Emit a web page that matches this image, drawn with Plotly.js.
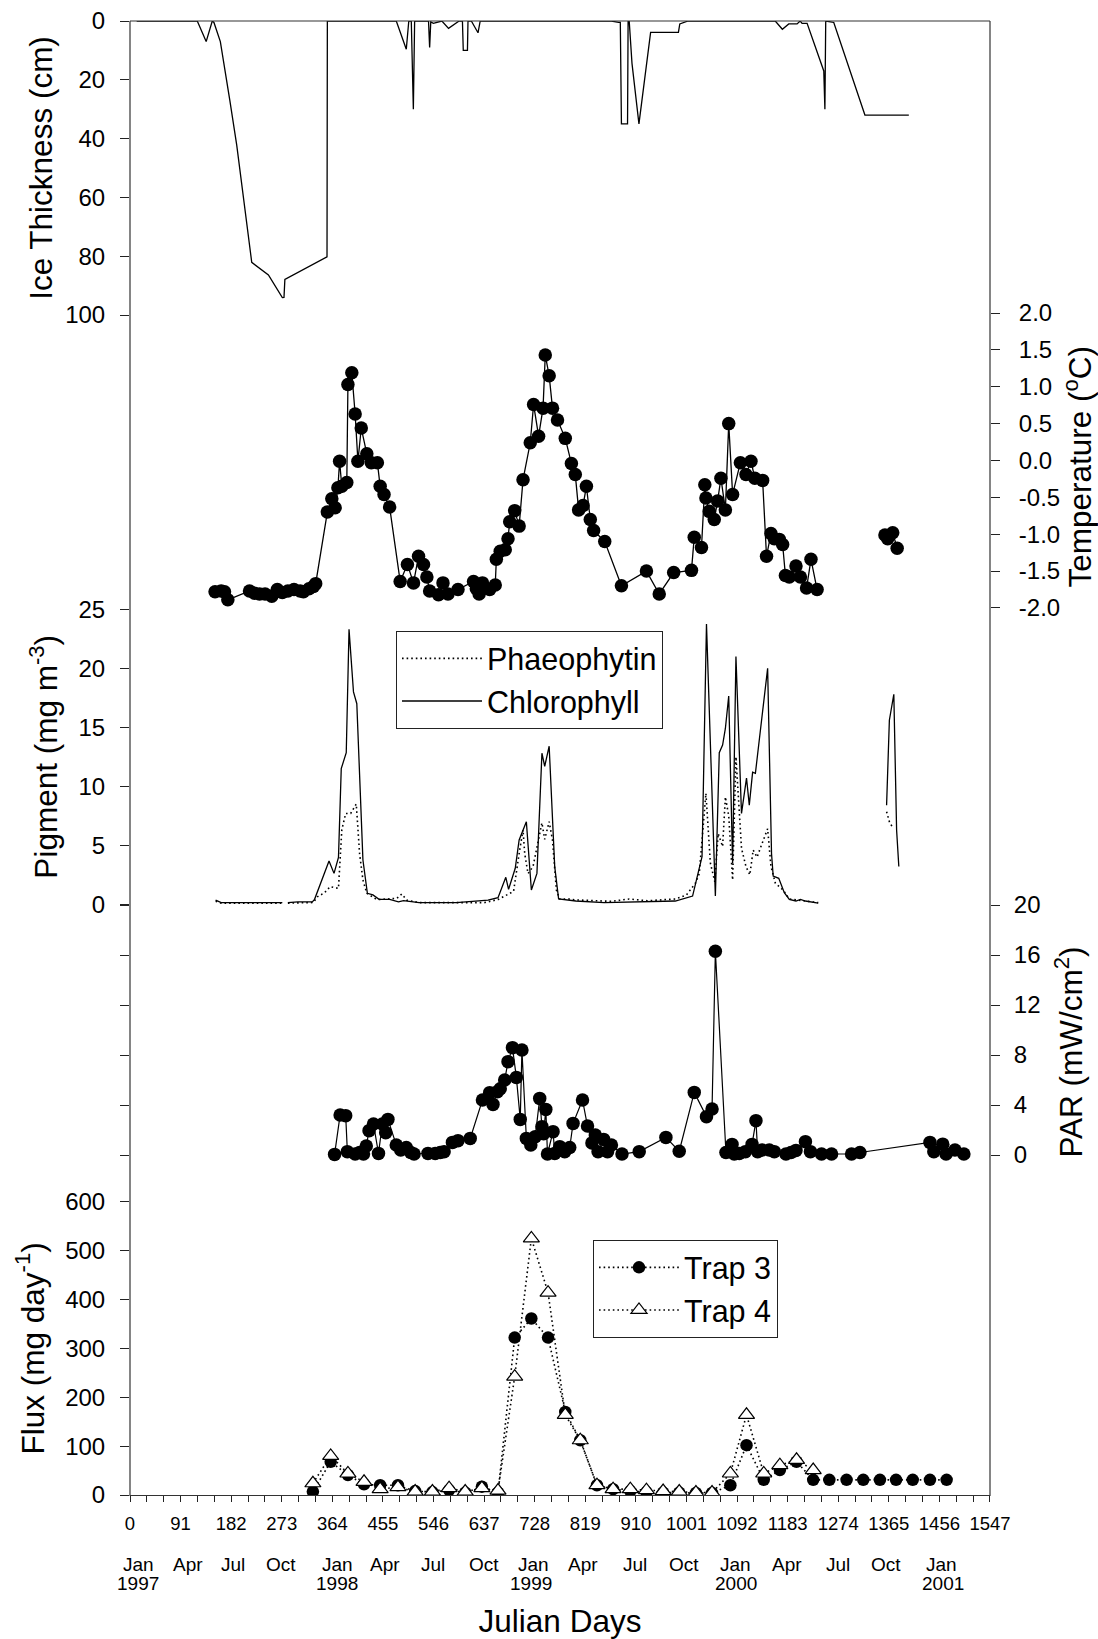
<!DOCTYPE html>
<html><head><meta charset="utf-8">
<script src="https://cdn.plot.ly/plotly-3.0.1.min.js"></script>
<style>html,body{margin:0;padding:0;background:#fff}</style>
</head><body><div id="chart" style="width:1098px;height:1639px"></div>
<script>
// ---------------- DATA ----------------
const iceDays = [12,121,137,148,151,162.5,179.5,192,219,249,274,277,278.6,354.4,355,479,497,501.5,506,509.7,512,537,539,541,545.7,554,561,573,588,592,598,599.5,607,608,614,626,630,866,879,882,884,895,896,898,903,915.5,936.5,986.5,989,997,1004,1160.7,1173.5,1185,1200,1205.5,1209,1218,1248,1250,1251.5,1266,1322,1401];
const iceVals = [0,0,7,0,0.5,7,26.9,42.2,82.1,86.4,94.1,94,87.9,80.2,0,0,9.6,0,0,30,0,0,9,0.3,0.8,0.5,0,2.5,0.5,0,0,10,10,0,0,4,0,0,0.5,0.5,35,35,0,0,14.4,35,3.9,3.9,1,0.5,0,0,2.8,1,1,0,0.8,0.8,17,30,0,0.5,32,32];

const tempDays = [153,164,170,176,215,224,233,243,255,265,274,284,295,306,312,322,330,334,355,363,369,374,377,381,390,392,399,405,410,416,426,434,445,450,457,467,486,499,510,519,528,534,539,555,563,572,590,618,623,628,634,647,657,659,666,675,680,683,692,700,707,720,726,735,743,747,754,760,769,783,794,801,807,815,821,828,834,854,884,929,952,978,1010,1015,1028,1034,1036,1042,1051,1057,1063,1071,1077,1084,1098,1108,1117,1124,1138,1145,1153,1159,1168,1174,1179,1186,1198,1206,1217,1225,1236,null,1358,1363,1372,1380];
const tempVals = [-1.78,-1.77,-1.78,-1.89,-1.77,-1.80,-1.81,-1.81,-1.84,-1.75,-1.79,-1.77,-1.75,-1.77,-1.78,-1.74,-1.71,-1.67,-0.70,-0.52,-0.64,-0.37,-0.01,-0.35,-0.30,1.03,1.19,0.63,-0.01,0.44,0.09,-0.03,-0.03,-0.35,-0.46,-0.63,-1.64,-1.41,-1.66,-1.30,-1.41,-1.58,-1.77,-1.82,-1.66,-1.81,-1.75,-1.64,-1.74,-1.81,-1.66,-1.75,-1.69,-1.34,-1.23,-1.21,-1.06,-0.83,-0.68,-0.89,-0.26,0.24,0.76,0.33,0.71,1.43,1.15,0.71,0.55,0.30,-0.04,-0.19,-0.67,-0.61,-0.35,-0.80,-0.95,-1.10,-1.70,-1.50,-1.81,-1.52,-1.49,-1.04,-1.18,-0.33,-0.51,-0.69,-0.80,-0.55,-0.24,-0.67,0.50,-0.46,-0.03,-0.19,-0.01,-0.24,-0.27,-1.30,-0.99,-1.06,-1.07,-1.14,-1.56,-1.58,-1.43,-1.58,-1.73,-1.34,-1.75,null,-1.01,-1.06,-0.98,-1.19];

const chlDays = [154,164,274,null,284,302,328,332,358,367,375,380,389,394,402,408,419,427,437,448,467,483,492,520,587,644,662,676,681,693,700,713,722,732,741,746,754,764,771,802,853,981,1012,1029,1037,1053,1060,1066,1071,1077,1084,1090,1100,1109,1114,1120,1125,1147,1154,1157,1167,1177,1186,1198,1206,1215,1238,null,1361,1366,1374,1379,1383];
const chlVals = [0.36,0.14,0.14,null,0.14,0.2,0.2,0.42,3.67,2.62,3.98,11.5,12.85,23.3,18.0,17.0,3.75,0.93,0.8,0.42,0.42,0.2,0.31,0.14,0.14,0.36,0.56,2.29,1.27,3.05,5.45,7.0,1.21,2.62,12.8,11.7,13.4,3.19,0.45,0.28,0.14,0.28,0.7,4.03,23.75,0.7,12.85,13.5,14.9,17.65,3.47,21.0,7.7,10.7,8.4,11.2,11.1,20.0,4.3,2.4,2.2,0.98,0.42,0.28,0.42,0.28,0.1,null,8.4,15.6,17.8,6.3,3.2];

const phDays = [154,164,274,null,284,330,337,350,360,369,375,381,388,397,407,413,419,426,435,444,480,489,498,520,637,662,681,690,700,707,710,716,725,741,746,754,760,767,773,789,802,834,866,898,930,981,1001,1017,1024,1036,1044,1052,1058,1066,1071,1077,1084,1090,1097,1100,1108,1115,1121,1128,1135,1147,1153,1161,1175,1186,1238,null,1361,1366,1372];
const phVals = [0.25,0.1,0.1,null,0.1,0.15,0.64,0.98,1.5,1.4,1.35,6.3,7.7,7.7,8.5,4.3,2.06,0.93,0.64,0.4,0.5,0.87,0.35,0.14,0.14,0.4,0.87,1.1,4.3,6.3,4.3,2.6,3.2,6.9,5.5,7.0,5.45,1.2,0.45,0.45,0.37,0.28,0.25,0.45,0.3,0.45,0.79,1.78,2.6,9.4,3.5,1.9,6.0,4.9,9.1,7.5,2.06,12.5,7.7,4.75,3.2,2.5,4.6,4.0,4.9,6.4,3.2,1.78,1.2,0.45,0.14,null,7.85,7.0,6.5];

const parDays = [368,378,388,391,405,413,420,425,430,438,447,454,460,464,479,487,497,505,511,536,549,558,565,580,590,612,634,647,653,661,666,674,680,688,695,702,705,713,721,729,737,741,744,748,751,761,764,773,782,791,797,814,823,831,837,842,852,859,866,885,916,964,988,1015,1037,1047,1053,1072,1083,1087,1096,1107,1119,1126,1129,1137,1150,1159,1180,1189,1198,1215,1224,1244,1262,1298,1313,1439,1446,1462,1468,1484,1500];
const parVals = [0.05,3.2,3.15,0.27,0.08,0.2,0.08,0.72,1.95,2.48,0.13,2.48,1.79,2.85,0.8,0.4,0.6,0.2,0.08,0.13,0.13,0.2,0.27,1.01,1.15,1.33,4.4,4.99,4.05,5.07,5.3,6.0,7.47,8.59,6.21,2.85,8.4,1.33,0.8,1.47,4.53,2.27,1.7,3.65,0.08,1.87,0.13,0.67,0.27,0.6,2.53,4.4,2.32,0.97,1.6,0.27,1.25,0.27,0.8,0.08,0.27,1.41,0.3,5.01,3.07,3.68,16.3,0.2,0.85,0.08,0.13,0.27,0.85,2.75,0.27,0.4,0.4,0.27,0.08,0.2,0.37,1.07,0.27,0.08,0.08,0.08,0.2,1.01,0.27,0.87,0.08,0.4,0.08];

const fluxDays = [329,361,392,421,450,482,513,544,574,603,633,662,692,722,752,783,810,840,869,900,929,959,988,1018,1047,1080,1109,1140,1169,1199,1229,1258,1289,1319,1349,1378,1408,1439,1469];
const trap3 = [7,68,41,22,20,20,8,6,10,5,17,5,322,361,322,170,112,20,12,8,6,5,5,4,4,20,102,31,51,68,31,31,31,31,31,31,31,31,31];
const trap4Days = fluxDays.slice(0, 31);
const trap4 = [24,80,44,27,12,16,7,7,14,7,14,9,242,525,414,164,112,20,12,12,10,8,7,5,5,44,164,44,61,72,51];

// tick labels
const dayTicks = [0,91,182,273,364,455,546,637,728,819,910,1001,1092,1183,1274,1365,1456,1547];
const iceTicks = [0,20,40,60,80,100];
const tempTicks = [-2,-1.5,-1,-0.5,0,0.5,1,1.5,2];
const tempTickText = ['-2.0','-1.5','-1.0','-0.5','0.0','0.5','1.0','1.5','2.0'];
const pigTicks = [0,5,10,15,20,25];
const parTicks = [0,4,8,12,16,20];
const fluxTicks = [0,100,200,300,400,500,600];
const monthLabels = ['Jan','Apr','Jul','Oct','Jan','Apr','Jul','Oct','Jan','Apr','Jul','Oct','Jan','Apr','Jul','Oct','Jan'];
const monthDays = [16,105,185,272,374,458,545,637,725,815,908,997,1090,1182,1274,1360,1460];
const yearLabels = ['1997','1998','1999','2000','2001'];
const yearDays = [14,372,722,1090,1462];

// ---------------- LAYOUT HELPERS ----------------
const W = 1098, H = 1639;
const px = v => v / W;
const py = v => 1 - v / H;
const FONT = 'Liberation Sans, Arial, Helvetica, sans-serif';
const L = 130, R = 990, TOP = 21, BOT = 1496;
const INK = '#000';

const yBase = {
  showgrid: false, zeroline: false, showline: false,
  ticks: 'outside', ticklen: 9, tickwidth: 1, tickcolor: '#222',
  tickfont: {size: 24, color: INK, family: FONT},
  anchor: 'x', fixedrange: true, tickmode: 'array', ticklabelstandoff: 10
};
const tFont = {size: 31.5, color: INK, family: FONT};

const traces = [
  {x: iceDays, y: iceVals, yaxis: 'y', mode: 'lines', line: {color: INK, width: 1.3}, showlegend: false},
  {x: tempDays, y: tempVals, yaxis: 'y2', mode: 'lines+markers', line: {color: INK, width: 1.3},
   marker: {size: 13.5, color: INK}, showlegend: false, connectgaps: false},
  {x: phDays, y: phVals, yaxis: 'y3', mode: 'lines', name: 'Phaeophytin', legend: 'legend',
   line: {color: INK, width: 1.6, dash: '1.6px,3px'}, connectgaps: false},
  {x: chlDays, y: chlVals, yaxis: 'y3', mode: 'lines', name: 'Chlorophyll', legend: 'legend',
   line: {color: INK, width: 1.3}, connectgaps: false},
  {x: parDays, y: parVals, yaxis: 'y4', mode: 'lines+markers', line: {color: INK, width: 1.2},
   marker: {size: 13.5, color: INK}, showlegend: false},
  {x: fluxDays, y: trap3, yaxis: 'y5', mode: 'lines+markers', name: 'Trap 3', legend: 'legend2',
   line: {color: INK, width: 1.6, dash: '1.6px,3px'}, marker: {size: 12.5, color: INK, symbol: 'circle'}},
  {x: trap4Days, y: trap4, yaxis: 'y5', mode: 'lines+markers', name: 'Trap 4', legend: 'legend2',
   line: {color: INK, width: 1.6, dash: '1.6px,3px'},
   marker: {size: 14, color: '#fff', symbol: 'triangle-up', line: {color: INK, width: 1.2}}}
];

const annotations = [];
monthLabels.forEach((t, i) => annotations.push({
  text: t, x: monthDays[i], xref: 'x', y: py(1564), yref: 'paper', showarrow: false,
  xanchor: 'center', yanchor: 'middle', font: {size: 19, color: INK, family: FONT}
}));
yearLabels.forEach((t, i) => annotations.push({
  text: t, x: yearDays[i], xref: 'x', y: py(1583), yref: 'paper', showarrow: false,
  xanchor: 'center', yanchor: 'middle', font: {size: 19, color: INK, family: FONT}
}));

const lineStyle = {color: '#333', width: 1.2};
const shapes = [
  {type: 'line', xref: 'paper', yref: 'paper', x0: px(L), x1: px(L), y0: py(TOP), y1: py(BOT), line: lineStyle},
  {type: 'line', xref: 'paper', yref: 'paper', x0: px(R), x1: px(R), y0: py(TOP), y1: py(BOT), line: lineStyle},
  {type: 'line', xref: 'paper', yref: 'paper', x0: px(L), x1: px(R), y0: py(TOP), y1: py(TOP), line: lineStyle}
];

const legendBase = {
  xanchor: 'left', yanchor: 'top',
  bgcolor: '#fff', bordercolor: '#222', borderwidth: 1,
  font: {size: 30.5, color: INK, family: FONT}, itemwidth: 80, tracegroupgap: 0
};

const layout = {
  width: W, height: H,
  margin: {l: 0, r: 0, t: 0, b: 0, pad: 0},
  paper_bgcolor: '#fff', plot_bgcolor: 'rgba(0,0,0,0)',
  font: {family: FONT, color: INK},
  xaxis: {
    domain: [px(L), px(R)], range: [0, 1547.01], anchor: 'y5',
    tickmode: 'array', tickvals: dayTicks, ticktext: dayTicks.map(String),
    ticks: 'outside', ticklen: 6, tickwidth: 1, tickcolor: '#222',
    minor: {tickmode: 'linear', tick0: 0, dtick: 91 / 3, ticks: 'outside', ticklen: 6, tickwidth: 1, tickcolor: '#222'},
    showline: true, linecolor: '#333', linewidth: 1.2,
    showgrid: false, zeroline: false, fixedrange: true,
    tickfont: {size: 18.5, color: INK, family: FONT}, ticklabelstandoff: 6,
    title: {text: 'Julian Days', font: tFont, standoff: 89}
  },
  yaxis: Object.assign({}, yBase, {
    domain: [py(315), py(TOP)], range: [100, 0], side: 'left',
    tickvals: iceTicks, ticktext: iceTicks.map(String),
    title: {text: 'Ice Thickness (cm)', font: tFont, standoff: 3}
  }),
  yaxis2: Object.assign({}, yBase, {
    domain: [py(620.5), py(313)], range: [-2.17, 2], side: 'right',
    tickvals: tempTicks, ticktext: tempTickText, ticklabelstandoff: 14,
    title: {text: 'Temperature (<sup>o</sup>C)', font: tFont, standoff: 10}
  }),
  yaxis3: Object.assign({}, yBase, {
    domain: [py(904.3), py(609.3)], range: [0, 25], side: 'left',
    tickvals: pigTicks, ticktext: pigTicks.map(String),
    title: {text: 'Pigment (mg m<sup>-3</sup>)', font: tFont, standoff: 11}
  }),
  yaxis4: Object.assign({}, yBase, {
    domain: [py(1199), py(905)], range: [-3.52, 20], side: 'right', mirror: 'ticks',
    tickvals: parTicks, ticktext: parTicks.map(String), ticklabelstandoff: 9,
    title: {text: 'PAR (mW/cm<sup>2</sup>)', font: tFont, standoff: 20}
  }),
  yaxis5: Object.assign({}, yBase, {
    domain: [py(1495), py(1201.7)], range: [0, 600], side: 'left',
    tickvals: fluxTicks, ticktext: fluxTicks.map(String),
    title: {text: 'Flux (mg day<sup>-1</sup>)', font: tFont, standoff: 11}
  }),
  legend: Object.assign({}, legendBase, {x: px(396), y: py(631)}),
  legend2: Object.assign({}, legendBase, {x: px(593), y: py(1240)}),
  showlegend: true,
  shapes: shapes,
  annotations: annotations,
  hovermode: false
};

Plotly.newPlot('chart', traces, layout, {staticPlot: true, displayModeBar: false});
</script></body></html>
